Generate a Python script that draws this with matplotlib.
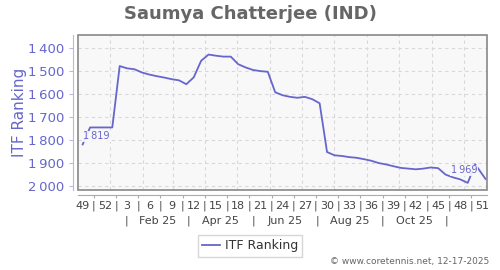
import datetime as dt
import matplotlib
matplotlib.use("Agg")
import matplotlib.pyplot as plt
import matplotlib.transforms as mtransforms
from matplotlib.patches import Rectangle

# weekly ITF ranking, x = weeks since week 49 of 2024
weeks = [0, 1, 2, 3, 4, 5, 6, 7, 8, 9, 10, 11, 12, 13, 14, 15, 16, 17, 18, 19,
         20, 21, 22, 23, 24, 25, 26, 27, 28, 29, 30, 31, 32, 33, 34, 35, 36, 37,
         38, 39, 40, 41, 42, 43, 44, 45, 46, 47, 48, 49, 50, 51, 52, 53, 54.4]
ranking = [1819, 1745, 1745, 1745, 1745, 1478, 1488, 1492, 1506, 1515, 1522,
           1528, 1535, 1540, 1557, 1527, 1455, 1428, 1433, 1437, 1437, 1470,
           1484, 1495, 1500, 1503, 1592, 1605, 1612, 1616, 1612, 1622, 1640,
           1852, 1866, 1869, 1874, 1877, 1883, 1890, 1900, 1906, 1914, 1921,
           1924, 1927, 1924, 1919, 1922, 1950, 1962, 1971, 1986, 1905, 1969]

y_ticks = [1400, 1500, 1600, 1700, 1800, 1900, 2000]
month_labels = ["Feb 25", "Apr 25", "Jun 25", "Aug 25", "Oct 25"]

BLUE = "#6666cc"
GREY = "#666666"
origin = dt.date(2024, 12, 6)


def week_pos(d):
    return (d - origin).days / 7.0


fig = plt.figure(figsize=(5, 2.7), dpi=100)
ax = fig.add_axes([78 / 500, 1 - 190 / 270, 409 / 500, 155 / 270])
ax.set_facecolor("#f8f8f8")

ax.plot(weeks, ranking, color=BLUE, lw=1.3, label="ITF Ranking", zorder=3)

ax.set_xlim(-0.63, 54.6)
ax.set_ylim(2017, 1343)

# grid: horizontal at ticks, vertical at month starts
ax.set_yticks(y_ticks)
ax.set_yticklabels([f"{v // 1000}\u2009{v % 1000:03d}" for v in y_ticks])
for v in y_ticks:
    ax.axhline(v, color="#d8d8d8", lw=0.8, ls=(0, (3, 3)), zorder=1)
for m in range(1, 13):
    ax.axvline(week_pos(dt.date(2025, m, 1)), color="#d8d8d8", lw=0.8,
               ls=(0, (3, 3)), zorder=1)

# frame
ax.add_patch(Rectangle((0, 0), 1, 1, transform=ax.transAxes, fill=False,
                       edgecolor="#888888", lw=1.2, zorder=4, clip_on=False))
for s in ["top", "right"]:
    ax.spines[s].set_visible(False)
ax.spines["left"].set_position(("outward", 3.6))
ax.spines["left"].set_color("#b8b8e0")
ax.spines["bottom"].set_position(("outward", 3.6))
ax.spines["bottom"].set_color("#aaaaaa")

ax.tick_params(axis="y", colors="#b8b8e0", labelcolor=BLUE, labelsize=9.5,
               length=3, pad=3)
ax.set_ylabel("ITF Ranking", color=BLUE, fontsize=11, labelpad=1)

# week labels (minor) with separators (major)
label_pos = list(range(0, 55, 3))
sep_pos = [p + 1.5 for p in label_pos[:-1]]
ax.set_xticks(sep_pos)
ax.set_xticklabels(["|"] * len(sep_pos))
ax.set_xticks(label_pos, minor=True)
ax.set_xticklabels([str((48 + p) % 52 + 1) for p in label_pos], minor=True)
ax.tick_params(axis="x", which="major", length=2, color="#aaaaaa",
               labelsize=8, labelcolor="#444444", pad=2)
ax.tick_params(axis="x", which="minor", length=0, labelsize=8,
               labelcolor="#444444", pad=4)

# month row
trans = mtransforms.blended_transform_factory(ax.transData, ax.transAxes)
seps = [week_pos(dt.date(2025, m, 16 if m < 9 else 15)) for m in (1, 3, 5, 7, 9, 11)]
for s in seps:
    ax.text(s, -0.2, "|", transform=trans, ha="center", va="center",
            fontsize=8, color="#444444")
for lab, a, b in zip(month_labels, seps[:-1], seps[1:]):
    ax.text((a + b) / 2, -0.2, lab, transform=trans, ha="center",
            va="center", fontsize=8, color="#444444")

# first / last value labels
box = dict(facecolor="#f8f8f8", edgecolor="none", alpha=0.9, pad=0.5)
ax.text(weeks[0] + 0.1, ranking[0] - 35, f"1\u2009{ranking[0] % 1000:03d}",
        color=BLUE, fontsize=7, ha="left", va="center", bbox=box, zorder=5)
ax.text(weeks[-1] - 1.1, ranking[-1] - 38, f"1\u2009{ranking[-1] % 1000:03d}",
        color=BLUE, fontsize=7, ha="right", va="center", bbox=box, zorder=5)

fig.text(0.5, 0.948, "Saumya Chatterjee (IND)", ha="center", va="center",
         fontsize=13, fontweight="bold", color=GREY)

fig.legend(loc="center", bbox_to_anchor=(0.5, 1 - 246 / 270), fontsize=9,
           frameon=True, fancybox=False, edgecolor="#cccccc",
           handlelength=1.4, handletextpad=0.4, borderpad=0.35,
           labelcolor="#333333")

fig.text(0.978, 0.015, "\u00a9 www.coretennis.net, 12-17-2025", ha="right",
         va="bottom", fontsize=6.5, color=GREY)

fig.savefig("out.png", dpi=100)
